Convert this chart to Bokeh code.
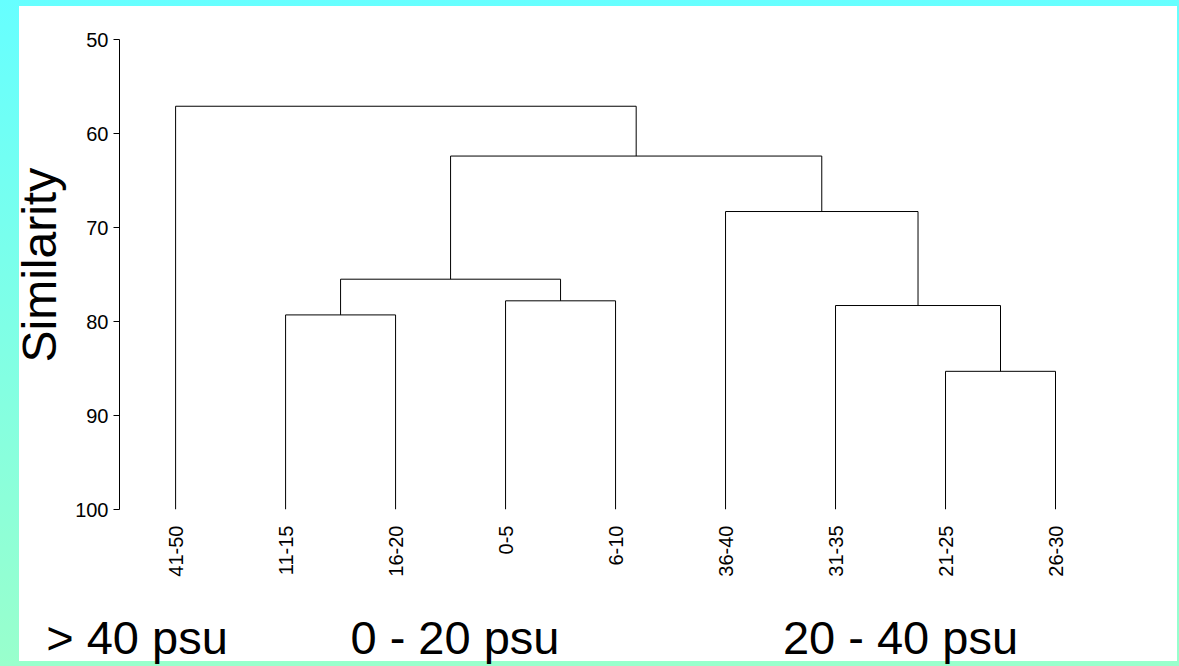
import numpy as np
from bokeh.plotting import figure
from bokeh.models import Range1d, FixedTicker, LinearAxis, Title
from bokeh.embed import file_html
from bokeh.resources import INLINE

# ---- data ----
leaves = ["41-50", "11-15", "16-20", "0-5", "6-10", "36-40", "31-35", "21-25", "26-30"]
# linkage: node ids 0..8 are leaves, merge k creates node 9+k
merge_left = [1, 3, 9, 7, 6, 5, 11, 0]
merge_right = [2, 4, 10, 8, 12, 13, 14, 15]
merge_similarity = [79.3, 77.8, 75.5, 85.3, 78.3, 68.3, 62.4, 57.1]
leaf_similarity = 100.0
y_ticks = [50, 60, 70, 80, 90, 100]
group_labels = ["> 40 psu", "0 - 20 psu", "20 - 40 psu"]
y_title = "Similarity"

# ---- layout constants (canvas px) ----
W, H = 1179, 666
FL, FR, FT, FB = 119, 1110, 39, 515          # frame edges
X0, X1 = -0.51, 8.5
Y0, Y1 = 100, 50
FONT = "Liberation Sans"
group_center_px = [136.5, 454.5, 900.0]

def cx(px):
    return round(X0 + (px - FL) * (X1 - X0) / (FR - FL), 3)

# ---- dendrogram geometry from linkage ----
n = len(leaves)
pos = {i: float(i) for i in range(n)}
hgt = {i: leaf_similarity for i in range(n)}
xs, ys = [], []
for k, (a, b, h) in enumerate(zip(merge_left, merge_right, merge_similarity)):
    xs.append([pos[a], pos[a], pos[b], pos[b]])
    ys.append([hgt[a], h, h, hgt[b]])
    pos[n + k] = (pos[a] + pos[b]) / 2.0
    hgt[n + k] = h

p = figure(width=W, height=H, x_range=Range1d(X0, X1), y_range=Range1d(Y0, Y1),
           output_backend="svg", toolbar_location=None,
           min_border_left=FL, min_border_right=W - FR,
           min_border_top=FT, min_border_bottom=H - FB)
p.outline_line_color = None
p.grid.visible = False
p.background_fill_color = None
p.border_fill_color = None
p.styles = {
    "background": "linear-gradient(#ffffff, #ffffff) 19px 6px / 1158px 655px no-repeat, "
                  "linear-gradient(#66ffff, #99ffcc)"
}

p.multi_line(xs, ys, line_color="black", line_width=1)

# x axis: leaf labels
xa = p.xaxis[0]
xa.ticker = FixedTicker(ticks=list(range(n)))
xa.major_label_overrides = {i: lab for i, lab in enumerate(leaves)}
xa.major_label_orientation = np.pi / 2
xa.axis_line_color = None
xa.major_tick_line_color = None
xa.minor_tick_line_color = None
xa.major_tick_out = 0
xa.major_tick_in = 0
xa.major_label_standoff = 16
xa.major_label_text_font = FONT
xa.major_label_text_font_size = "20px"
xa.major_label_text_color = "black"

# group labels as a second bottom axis
gticks = [cx(v) for v in group_center_px]
ga = LinearAxis(ticker=FixedTicker(ticks=gticks),
                major_label_overrides={t: lab for t, lab in zip(gticks, group_labels)},
                axis_line_color=None, major_tick_line_color=None,
                minor_tick_line_color=None, major_tick_out=0, major_tick_in=0,
                major_label_standoff=31, major_label_text_font=FONT,
                major_label_text_font_size="47px", major_label_text_color="black")
p.add_layout(ga, "below")

ya = p.yaxis[0]
ya.ticker = FixedTicker(ticks=y_ticks)
ya.axis_line_color = "black"
ya.major_tick_line_color = "black"
ya.minor_tick_line_color = None
ya.major_tick_out = 6
ya.major_tick_in = 0
ya.major_label_standoff = 5
ya.major_label_text_font = FONT
ya.major_label_text_font_size = "20px"
ya.major_label_text_color = "black"

p.add_layout(Title(text=y_title, align="left", offset=147, standoff=14,
                   text_font=FONT, text_font_size="48px", text_font_style="normal",
                   text_color="black"), "left")

open("out.html", "w").write(file_html(p, INLINE))
